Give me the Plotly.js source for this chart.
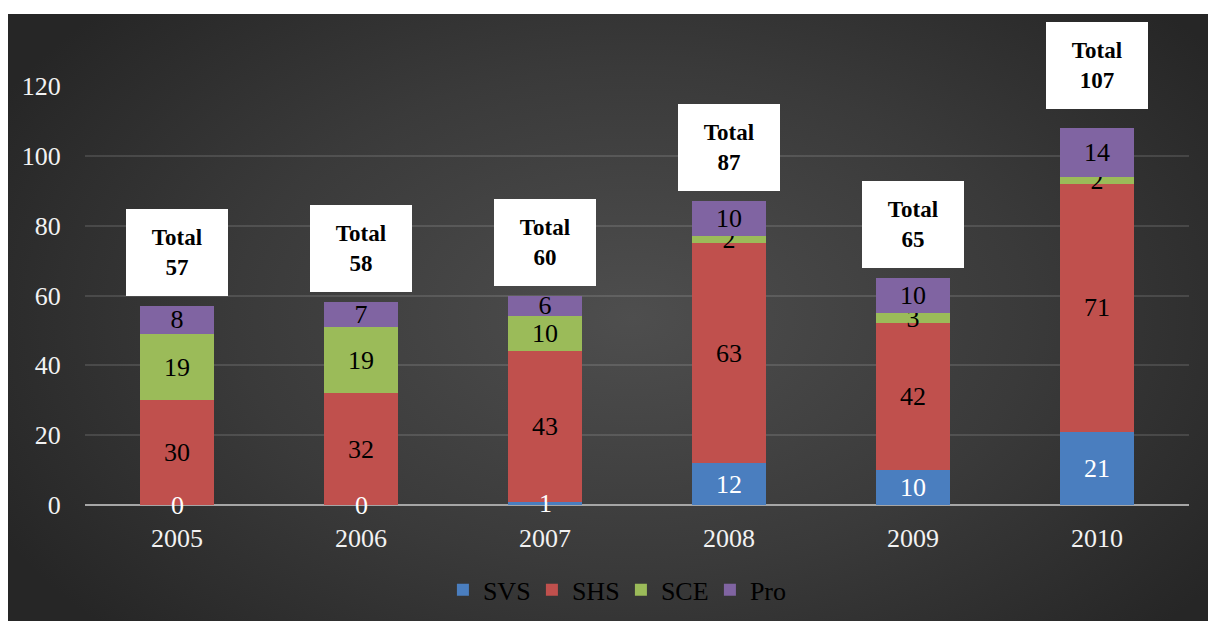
<!DOCTYPE html>
<html>
<head>
<meta charset="utf-8">
<script src="https://cdn.plot.ly/plotly-3.0.1.min.js"></script>
<style>
  html, body { margin: 0; padding: 0; background: #ffffff; }
  #bg { position: absolute; left: 8px; top: 14px; width: 1200px; height: 607px;
        background: radial-gradient(ellipse 60% 75% at 52% 50%, #4e4e4e 0%, #3a3a3a 55%, #262626 100%); }
  #chart { position: absolute; left: 0; top: 0; width: 1208px; height: 621px; }
</style>
</head>
<body>
<div id="bg"></div>
<div id="chart"></div>
<script>
const years = ['2005', '2006', '2007', '2008', '2009', '2010'];
const svs = [0, 0, 1, 12, 10, 21];
const shs = [30, 32, 43, 63, 42, 71];
const sce = [19, 19, 10, 2, 3, 2];
const pro = [8, 7, 6, 10, 10, 14];
const totals = [57, 58, 60, 87, 65, 107];
const seriesNames = ['SVS', 'SHS', 'SCE', 'Pro'];
const seriesColors = ['#4a7ebf', '#c0504d', '#9bbb59', '#8064a2'];
const labelColors = ['#ffffff', '#000000', '#000000', '#000000'];

const serif = 'Liberation Serif, Times New Roman, serif';
const values = [svs, shs, sce, pro];
const SMALL = 2; // segments this small get their label as an annotation centred on the segment

const traces = values.map((v, i) => ({
  type: 'bar',
  name: seriesNames[i],
  x: years,
  y: v,
  text: v.map(val => (i === 0 && val < SMALL) ? '' : String(val)),
  textposition: 'inside',
  insidetextanchor: 'middle',
  textangle: 0,
  constraintext: 'none',
  cliponaxis: false,
  textfont: { family: serif, size: 26, color: labelColors[i] },
  marker: { color: seriesColors[i], line: { width: 0 } },
  hoverinfo: 'skip'
}));

const annotations = [];
years.forEach((yr, i) => {
  annotations.push({
    x: i,
    y: totals[i],
    xref: 'x',
    yref: 'y',
    yanchor: 'bottom',
    yshift: i === years.length - 1 ? 22 : 10,
    text: '<b>Total<br>' + totals[i] + '</b>',
    showarrow: false,
    bgcolor: '#ffffff',
    bordercolor: '#ffffff',
    borderwidth: 1,
    borderpad: 0,
    width: 100,
    height: 85,
    align: 'center',
    valign: 'middle',
    font: { family: serif, size: 23, color: '#000000' }
  });
  if (svs[i] < SMALL) {
    annotations.push({
      x: i,
      y: svs[i] / 2,
      xref: 'x',
      yref: 'y',
      yanchor: 'middle',
      text: String(svs[i]),
      showarrow: false,
      font: { family: serif, size: 26, color: labelColors[0] }
    });
  }
});

const layout = {
  width: 1208,
  height: 621,
  paper_bgcolor: 'rgba(0,0,0,0)',
  plot_bgcolor: 'rgba(0,0,0,0)',
  margin: { l: 85, r: 19, t: 86, b: 116 },
  barmode: 'stack',
  bargap: 0.6,
  showlegend: true,
  legend: {
    orientation: 'h',
    xref: 'container', yref: 'container',
    x: 0.514, xanchor: 'center',
    y: 0.05, yanchor: 'middle',
    entrywidth: 44,
    entrywidthmode: 'pixels',
    font: { family: serif, size: 26, color: '#000000' },
    bgcolor: 'rgba(0,0,0,0)',
    traceorder: 'normal'
  },
  xaxis: {
    type: 'category',
    range: [-0.5, 5.5],
    automargin: false,
    tickfont: { family: serif, size: 26, color: '#f2f2f2' },
    showgrid: false,
    showline: false,
    zeroline: false,
    ticks: 'outside',
    ticklen: 10,
    tickcolor: 'rgba(0,0,0,0)'
  },
  yaxis: {
    range: [0, 120],
    dtick: 20,
    automargin: false,
    tickfont: { family: serif, size: 26, color: '#f2f2f2' },
    showgrid: true,
    gridcolor: 'rgba(255,255,255,0.12)',
    gridwidth: 2,
    zeroline: true,
    zerolinecolor: '#a6a6a6',
    zerolinewidth: 2,
    showline: false,
    ticks: 'outside',
    ticklen: 18,
    tickcolor: 'rgba(0,0,0,0)'
  },
  annotations: annotations,
  font: { family: serif }
};

Plotly.newPlot('chart', traces, layout, { displayModeBar: false });
</script>
</body>
</html>
